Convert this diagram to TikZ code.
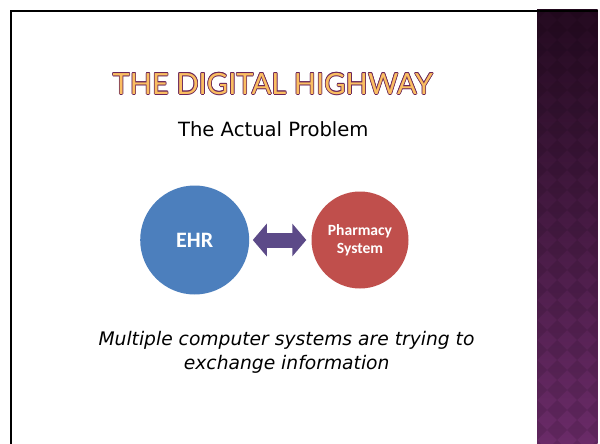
\documentclass[tikz,border=0pt]{standalone}
\usepackage{fontspec}
\setmainfont{DejaVu Sans}
\newfontfamily\titlefont{Lato}
\newfontfamily\calfont{Carlito}
\usetikzlibrary{arrows.meta,calc}
\definecolor{barTop}{HTML}{240A20}
\definecolor{barBot}{HTML}{6A2B68}
\definecolor{ehrblue}{HTML}{4C7FBD}
\definecolor{phred}{HTML}{C04F4C}
\definecolor{arrowpurple}{HTML}{5C4A88}
\definecolor{titlefill}{HTML}{FBBE62}
\definecolor{titleline}{HTML}{6A2558}
\tikzset{
  titletext/.style={font=\titlefont\fontsize{29.2}{29.2}\selectfont, inner sep=0pt},
  bubble/.style={circle, inner sep=0pt, text=white, align=center},
  notetext/.style={font=\fontsize{18.7}{18.7}\selectfont\itshape, anchor=base, inner sep=0pt}
}
\begin{document}
\begin{tikzpicture}[x=1pt,y=-1pt]
\useasboundingbox (0,0) rectangle (600,444);
\fill[white] (0,0) rectangle (600,444);
% side bar
\shade[top color=barTop, bottom color=barBot] (537,10) rectangle (597.5,444);
\begin{scope}
  \clip (537,10) rectangle (597.5,444);
  \foreach \r in {0,...,22} {
    \foreach \c in {0,...,3} {
      \fill[black, opacity=0.10]
        ({537+\c*20},{10+\r*20-10}) -- ({547+\c*20},{10+\r*20}) --
        ({537+\c*20},{10+\r*20+10}) -- ({527+\c*20},{10+\r*20}) -- cycle;
    }
  }
\end{scope}
% frame
\draw[line width=2.6pt] (11,444) -- (11,11) -- (598,11);
% title with outline
\foreach \a [count=\i] in {0,45,...,315} {
  \node[titletext, text=titleline] (tc\i) at ($(272.7,84)+(\a:0.75pt)$) {THE DIGITAL HIGHWAY};
}
\node[titletext, text=titlefill] (title) at (272.7,84) {THE DIGITAL HIGHWAY};
% subtitle
\node[font=\fontsize{19.6}{19.6}\selectfont, anchor=base, inner sep=0pt] (sub) at (273.3,136) {The Actual Problem};
% bubbles
\node[bubble, fill=ehrblue, minimum size=109pt, font=\calfont\bfseries\fontsize{22}{22}\selectfont] (ehr) at (194.7,240) {EHR};
\node[bubble, fill=phred, minimum size=97pt, font=\calfont\bfseries\fontsize{15.6}{18}\selectfont] (ph) at (360,240) {Pharmacy\\System};
\draw[arrowpurple, line width=15pt, shorten <=3.4pt, shorten >=5pt,
  {Triangle[length=14pt,width=32pt]}-{Triangle[length=14pt,width=32pt]}] (ehr) -- (ph);
% note
\node[notetext] (note1) at (286.5,345) {Multiple computer systems are trying to};
\node[notetext] (note2) at (286.7,369.5) {exchange information};
\end{tikzpicture}
\end{document}
